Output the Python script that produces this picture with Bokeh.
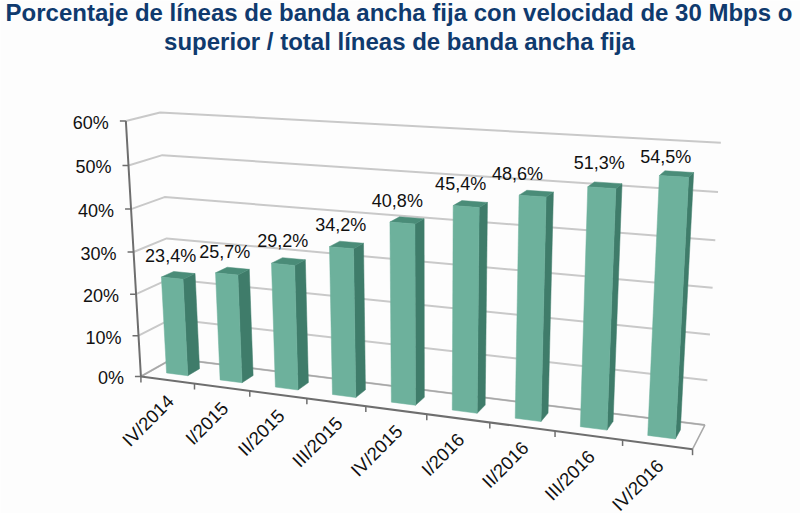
import numpy as np
from bokeh.plotting import figure
from bokeh.models import Range1d
from bokeh.core.properties import value
from bokeh.embed import file_html
from bokeh.resources import INLINE

categories = ["IV/2014", "I/2015", "II/2015", "III/2015", "IV/2015", "I/2016", "II/2016", "III/2016", "IV/2016"]
values = [23.4, 25.7, 29.2, 34.2, 40.8, 45.4, 48.6, 51.3, 54.5]
labels = ["23,4%", "25,7%", "29,2%", "34,2%", "40,8%", "45,4%", "48,6%", "51,3%", "54,5%"]
y_ticks = [0, 10, 20, 30, 40, 50, 60]
title_lines = ["Porcentaje de líneas de banda ancha fija con velocidad de 30 Mbps o",
               "superior / total líneas de banda ancha fija"]
label_dx = [-8, -8, -6, -6, -10, -10, -19, -6, -11]
label_dy = [-19, -19, -20, -20, -19, -20, -19, -22, -17]

# camera calibration of the chart's 3D box: (category pos, depth, value) -> picture
calib = [((0, 0, 0), (141, 377)), ((0, 0, 60), (126, 120)), ((0, 1, 60), (159, 113)), ((0, 1, 0), (173, 357)),
         ((9, 1, 60), (720, 142)), ((9, 1, 0), (704, 425)), ((9, 0, 0), (692, 448)), ((1, 0, 0), (193, 384)),
         ((8, 0, 0), (622, 439)), ((0, 0, 30), (133, 251)), ((9, 1, 30), (713, 288)), ((0, 1, 30), (166, 237))]
A, b = [], []
for (X, Y, Z), (u, v) in calib:
    A.append([X, Y, Z, 1, 0, 0, 0, 0, -u * X, -u * Y, -u * Z]); b.append(u)
    A.append([0, 0, 0, 0, X, Y, Z, 1, -v * X, -v * Y, -v * Z]); b.append(v)
M = np.linalg.lstsq(np.array(A, float), np.array(b, float), rcond=None)[0]
M = np.append(M, 1.0).reshape(3, 4)


def proj(i, w, z):
    q = M @ np.array([i, w, z, 1.0])
    return q[0] / q[2], q[1] / q[2]


def poly(pts):
    xy = [proj(*q) for q in pts]
    return [a for a, _ in xy], [c for _, c in xy]


BG = "#fdfdfd"
p = figure(width=800, height=513, x_range=Range1d(0, 800), y_range=Range1d(513, 0),
           x_axis_type=None, y_axis_type=None, toolbar_location=None, output_backend="svg",
           min_border=0, background_fill_color=BG, border_fill_color=BG, outline_line_color=None)
p.xgrid.visible = False
p.ygrid.visible = False

n = len(categories)
# walls
xs, ys = [], []
for t in y_ticks:
    a, c = poly([(0, 0, t), (0, 1, t), (n, 1, t)])
    xs.append(a); ys.append(c)
a, c = poly([(0, 0, 0), (0, 1, 0), (n, 1, 0), (n, 0, 0)])
p.multi_line(xs, ys, line_color="#c9c9c9", line_width=2)
p.line(a, c, line_color="#a8a8a8", line_width=1.5)

# axes
a, c = poly([(0, 0, 60), (0, 0, 0), (n, 0, 0)])
p.line(a, c, line_color="#6e6e6e", line_width=2)
tx, ty = [], []
for t in y_ticks:
    x0, y0 = proj(0, 0, t)
    tx.append([x0 - 6, x0]); ty.append([y0, y0])
for i in range(n + 1):
    x0, y0 = proj(i, 0, 0)
    tx.append([x0, x0]); ty.append([y0, y0 + 6])
p.multi_line(tx, ty, line_color="#6e6e6e", line_width=1.5)

# bars
L, R, F, B = 0.30, 0.70, 0.30, 0.68
front_x, front_y, side_x, side_y, top_x, top_y = [], [], [], [], [], []
for i, val in enumerate(values):
    a, c = poly([(i + L, F, 0), (i + R, F, 0), (i + R, F, val), (i + L, F, val)])
    front_x.append(a); front_y.append(c)
    a, c = poly([(i + R, F, 0), (i + R, B, 0), (i + R, B, val), (i + R, F, val)])
    side_x.append(a); side_y.append(c)
    a, c = poly([(i + L, F, val), (i + R, F, val), (i + R, B, val), (i + L, B, val)])
    top_x.append(a); top_y.append(c)
p.patches(side_x, side_y, fill_color="#3f7c6a", line_color="#3f7c6a", line_width=0.5)
p.patches(top_x, top_y, fill_color="#4a8c78", line_color="#4a8c78", line_width=0.5)
p.patches(front_x, front_y, fill_color="#6db19c", line_color="#6db19c", line_width=0.5)

FONT = value("Liberation Sans")
# value labels
lx, ly = [], []
for i, val in enumerate(values):
    x0, y0 = proj(i + 0.5, 0.5, val)
    lx.append(x0 + label_dx[i]); ly.append(y0 + label_dy[i])
p.text(lx, ly, text=labels, text_font=FONT, text_font_size="18px", text_color="#111111",
       text_align="center", text_baseline="middle")

# y tick labels
yx, yy = [], []
for t in y_ticks:
    x0, y0 = proj(0, 0, t)
    yx.append(x0 - 17); yy.append(y0 + 2)
p.text(yx, yy, text=[f"{t}%" for t in y_ticks], text_font=FONT, text_font_size="18px", text_color="#111111",
       text_align="right", text_baseline="middle")

# category labels
cx, cy = [], []
for i in range(n):
    x0, y0 = proj(i + 0.5, 0, 0)
    cx.append(x0 + 3); cy.append(y0 + 18)
p.text(cx, cy, text=categories, angle=np.pi / 4, text_font=FONT, text_font_size="18.5px", text_color="#111111",
       text_align="right", text_baseline="middle")

# title
p.text([398.5, 399], [12, 41], text=title_lines, text_font=FONT, text_font_size="24px",
       text_font_style="bold", text_color="#0f3a6e", text_align="center", text_baseline="middle")

open("out.html", "w").write(file_html(p, INLINE))
